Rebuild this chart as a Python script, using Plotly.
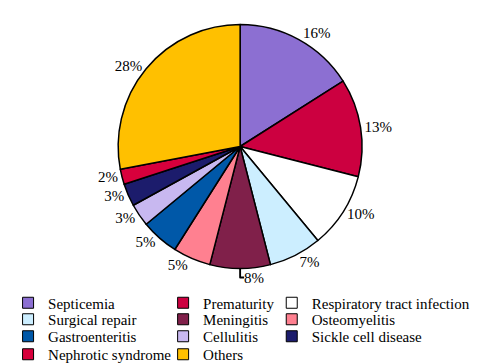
import plotly.graph_objects as go

causes = ["Septicemia", "Prematurity", "Respiratory tract infection", "Surgical repair",
          "Meningitis", "Osteomyelitis", "Gastroenteritis", "Cellulitis",
          "Sickle cell disease", "Nephrotic syndrome", "Others"]
shares = [16, 13, 10, 7, 8, 5, 5, 3, 3, 2, 28]
colors = ["#8c6fd2", "#cc0040", "#ffffff", "#cceeff", "#80204a", "#ff8090",
          "#0058a8", "#c8b8f0", "#1c1c6c", "#d8003c", "#ffc000"]

FONT = "Liberation Serif"
W, H = 481, 363

# legend grid (3 columns, row-wise), pixel anchors of the swatch centres
col_px = [21, 178, 288]
row_px = [295, 311.5, 328.5, 346.5]

fig = go.Figure()
fig.add_trace(go.Pie(
    labels=causes, values=shares, sort=False, direction="clockwise", rotation=0,
    marker=dict(colors=colors, line=dict(color="black", width=1.5)),
    texttemplate="%{value}%", textposition="outside",
    textfont=dict(family=FONT, size=15, color="black"),
    showlegend=False, hoverinfo="label+percent",
    domain=dict(x=[0.2193, 0.7328], y=[0.2782, 0.9587]),
))

legends = {}
for i, (name, col) in enumerate(zip(causes, colors)):
    key = "legend" if i == 0 else f"legend{i + 1}"
    fig.add_trace(go.Scatter(
        x=[None], y=[None], mode="markers", name=name, legend=key,
        marker=dict(symbol="square", size=11, color=col, line=dict(color="black", width=1)),
    ))
    cx = col_px[i % 3]
    cy = row_px[i // 3]
    legends[key] = dict(
        x=(cx - 27) / W, y=1 - cy / H, xanchor="left", yanchor="middle",
        bgcolor="rgba(0,0,0,0)", borderwidth=0, itemwidth=30,
        font=dict(family=FONT, size=15, color="black"),
    )

fig.update_layout(
    width=W, height=H,
    margin=dict(l=0, r=0, t=0, b=0),
    paper_bgcolor="white", plot_bgcolor="white",
    xaxis=dict(visible=False), yaxis=dict(visible=False),
    **legends,
)

fig.write_html("out.html")
